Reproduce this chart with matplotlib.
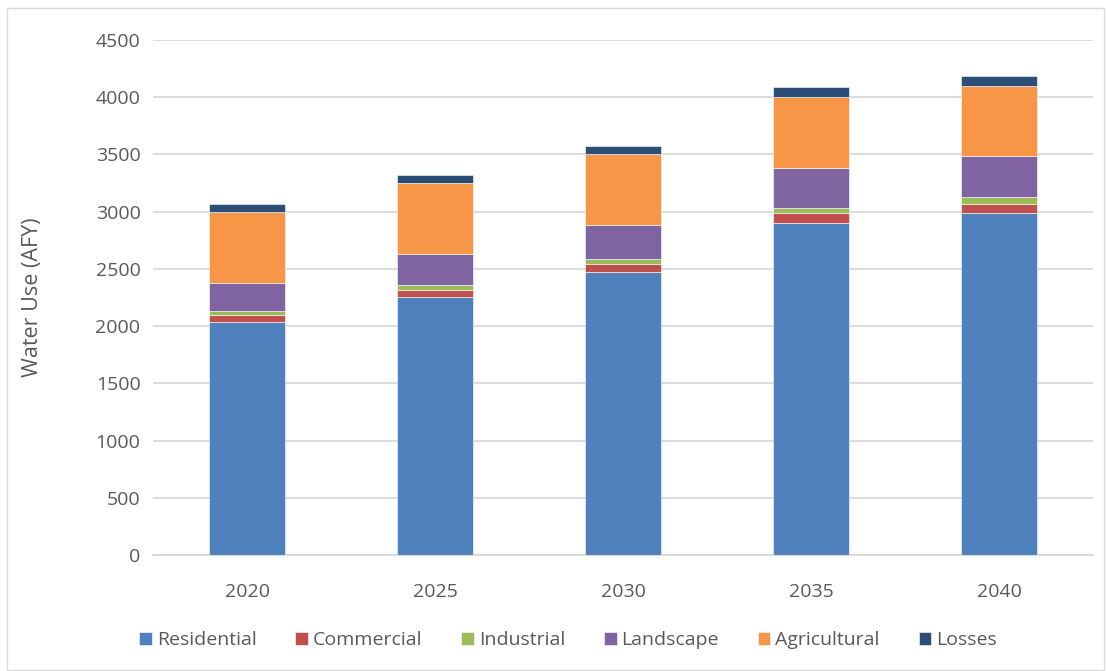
import numpy as np
import matplotlib.pyplot as plt
from matplotlib.patches import Rectangle

years = ["2020", "2025", "2030", "2035", "2040"]
residential = [2040, 2255, 2470, 2900, 2985]
commercial = [55, 62, 75, 85, 85]
industrial = [35, 42, 40, 50, 55]
landscape = [250, 270, 295, 345, 360]
agricultural = [620, 620, 620, 625, 615]
losses = [65, 68, 75, 80, 85]

series = [
    ("Residential", residential, "#4F81BD"),
    ("Commercial", commercial, "#C0504D"),
    ("Industrial", industrial, "#9BBB59"),
    ("Landscape", landscape, "#8064A2"),
    ("Agricultural", agricultural, "#F79646"),
    ("Losses", losses, "#2C4D75"),
]

plt.rcParams['font.family'] = ['Open Sans', 'DejaVu Sans']
txt = "#595959"

fig = plt.figure(figsize=(11.07, 6.71), dpi=100)
ax = fig.add_axes([153 / 1107, 1 - 555 / 671, 940 / 1107, 515 / 671])

x = np.arange(len(years))
bottom = np.zeros(len(years))
for name, vals, col in series:
    ax.bar(x, vals, width=0.4, bottom=bottom, color=col, label=name,
           edgecolor="white", linewidth=0.4, zorder=3)
    bottom += np.array(vals)

ax.set_xlim(-0.5, len(years) - 0.5)
ax.set_ylim(0, 4500)
ax.set_yticks(range(0, 4501, 500))
ax.set_xticks(x)
ax.set_xticklabels(years)
ax.grid(axis="y", color="#D9D9D9", linewidth=1.3, zorder=0)
for s in ["top", "right", "left"]:
    ax.spines[s].set_visible(False)
ax.spines["bottom"].set_color("#D9D9D9")
ax.spines["bottom"].set_linewidth(1.3)
ax.tick_params(length=0, labelsize=14, colors=txt)
ax.tick_params(axis="x", pad=20)
ax.tick_params(axis="y", pad=9)
ax.set_ylabel("Water Use (AFY)", fontsize=15.5, color=txt)
ax.yaxis.set_label_coords(-110 / 940, 0.5)

fig.legend(*ax.get_legend_handles_labels(), loc="center",
           bbox_to_anchor=(568 / 1107, 1 - 640 / 671), ncol=6, frameon=False,
           fontsize=14, labelcolor=txt, handlelength=0.65, handleheight=0.65,
           handletextpad=0.25, columnspacing=2.0)

fig.patches.append(Rectangle((7 / 1107, 0.002), 1097 / 1107, 1 - 8 / 671 - 0.002,
                             transform=fig.transFigure, fill=False,
                             edgecolor="#D9D9D9", linewidth=1))

fig.savefig("out.png", dpi=100)
